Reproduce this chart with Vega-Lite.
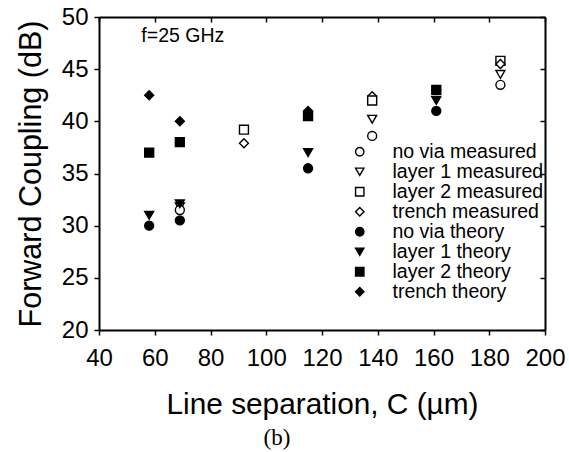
{
  "$schema": "https://vega.github.io/schema/vega-lite/v6.json",
  "width": 446,
  "height": 313,
  "autosize": {"type": "none"},
  "padding": {"left": 99, "top": 17, "right": 24, "bottom": 122},
  "background": "white",
  "view": {"stroke": null},
  "title": {"text": "(b)", "orient": "bottom", "font": "Liberation Serif", "fontSize": 23, "fontWeight": "normal", "anchor": "middle", "frame": "group", "dx": -45, "offset": 8, "color": "black"},
  "config": {
    "font": "Liberation Sans",
    "axis": {"grid": false, "domainColor": "black", "domainWidth": 2, "tickColor": "black", "tickWidth": 1.5, "labelColor": "black", "titleColor": "black", "labelFont": "Liberation Sans", "titleFont": "Liberation Sans", "titleFontWeight": "normal", "labelFlush": false, "labelOverlap": false}
  },
  "layer": [
    {
      "data": {"values": [
        {"sep": 69, "coupling": 31.8, "series": "layer 1 measured"},
        {"sep": 69, "coupling": 31.5, "series": "no via measured"},
        {"sep": 92, "coupling": 39.2, "series": "layer 2 measured"},
        {"sep": 92, "coupling": 37.9, "series": "trench measured"},
        {"sep": 138, "coupling": 42.4, "series": "trench measured"},
        {"sep": 138, "coupling": 42.0, "series": "layer 2 measured"},
        {"sep": 138, "coupling": 40.2, "series": "layer 1 measured"},
        {"sep": 138, "coupling": 38.6, "series": "no via measured"},
        {"sep": 184, "coupling": 45.8, "series": "layer 2 measured"},
        {"sep": 184, "coupling": 45.5, "series": "trench measured"},
        {"sep": 184, "coupling": 44.5, "series": "layer 1 measured"},
        {"sep": 184, "coupling": 43.5, "series": "no via measured"},
        {"sep": 58, "coupling": 42.5, "series": "trench theory"},
        {"sep": 58, "coupling": 37.0, "series": "layer 2 theory"},
        {"sep": 58, "coupling": 31.0, "series": "layer 1 theory"},
        {"sep": 58, "coupling": 30.0, "series": "no via theory"},
        {"sep": 69, "coupling": 40.0, "series": "trench theory"},
        {"sep": 69, "coupling": 38.0, "series": "layer 2 theory"},
        {"sep": 69, "coupling": 32.1, "series": "layer 1 theory"},
        {"sep": 69, "coupling": 30.5, "series": "no via theory"},
        {"sep": 115, "coupling": 41.0, "series": "trench theory"},
        {"sep": 115, "coupling": 40.5, "series": "layer 2 theory"},
        {"sep": 115, "coupling": 37.0, "series": "layer 1 theory"},
        {"sep": 115, "coupling": 35.5, "series": "no via theory"},
        {"sep": 161, "coupling": 43.0, "series": "trench theory"},
        {"sep": 161, "coupling": 43.0, "series": "layer 2 theory"},
        {"sep": 161, "coupling": 42.0, "series": "layer 1 theory"},
        {"sep": 161, "coupling": 41.0, "series": "no via theory"}
      ]},
      "mark": {"type": "point", "filled": true, "stroke": "black", "strokeWidth": 1.4, "opacity": 1, "size": 80},
      "encoding": {
        "x": {"field": "sep", "type": "quantitative", "scale": {"domain": [40, 200], "nice": false, "zero": false},
          "axis": {"orient": "bottom", "values": [40, 60, 80, 100, 120, 140, 160, 180, 200], "tickSize": 5, "labelPadding": 11, "labelFontSize": 24, "title": "Line separation, C (µm)", "titleFontSize": 29.8, "titlePadding": 19}},
        "y": {"field": "coupling", "type": "quantitative", "scale": {"domain": [20, 50], "nice": false, "zero": false},
          "axis": {"orient": "left", "values": [20, 25, 30, 35, 40, 45, 50], "tickSize": 5, "labelPadding": 6, "labelFontSize": 24, "title": "Forward Coupling (dB)", "titleFontSize": 30.5, "titlePadding": 15}},
        "shape": {"field": "series", "type": "nominal",
          "scale": {"domain": ["no via measured", "layer 1 measured", "layer 2 measured", "trench measured", "no via theory", "layer 1 theory", "layer 2 theory", "trench theory"],
            "range": ["circle", "triangle-down", "square", "diamond", "circle", "triangle-down", "square", "diamond"]},
          "legend": {"title": null, "orient": "none", "legendX": 251, "legendY": 125, "padding": 0, "labelFontSize": 19.5, "labelColor": "black", "labelFont": "Liberation Sans", "labelOffset": 23, "rowPadding": -1.2, "symbolSize": 70, "symbolStrokeColor": "black", "symbolStrokeWidth": 1.4, "symbolOpacity": 1,
            "encode": {"symbols": {"update": {"stroke": {"value": "black"}, "strokeWidth": {"value": 1.4}, "opacity": {"value": 1}}}}}},
        "fill": {"field": "series", "type": "nominal",
          "scale": {"domain": ["no via measured", "layer 1 measured", "layer 2 measured", "trench measured", "no via theory", "layer 1 theory", "layer 2 theory", "trench theory"],
            "range": ["white", "white", "white", "white", "black", "black", "black", "black"]},
          "legend": {"title": null, "orient": "none", "legendX": 251, "legendY": 125, "padding": 0, "labelFontSize": 19.5, "labelColor": "black", "labelFont": "Liberation Sans", "labelOffset": 23, "rowPadding": -1.2, "symbolSize": 70, "symbolStrokeColor": "black", "symbolStrokeWidth": 1.4, "symbolOpacity": 1,
            "encode": {"symbols": {"update": {"stroke": {"value": "black"}, "strokeWidth": {"value": 1.4}, "opacity": {"value": 1}}}}}}
      }
    },
    {
      "data": {"values": [{"sep": 55.2, "coupling": 47.6, "label": "f=25 GHz"}]},
      "mark": {"type": "text", "align": "left", "baseline": "alphabetic", "fontSize": 19.5, "font": "Liberation Sans", "color": "black"},
      "encoding": {
        "x": {"field": "sep", "type": "quantitative", "axis": {"orient": "top", "values": [40, 60, 80, 100, 120, 140, 160, 180, 200], "labels": false, "title": null, "tickSize": -5}},
        "y": {"field": "coupling", "type": "quantitative", "axis": {"orient": "right", "values": [20, 25, 30, 35, 40, 45, 50], "labels": false, "title": null, "tickSize": -5}},
        "text": {"field": "label"}
      }
    }
  ],
  "resolve": {"axis": {"x": "independent", "y": "independent"}}
}
